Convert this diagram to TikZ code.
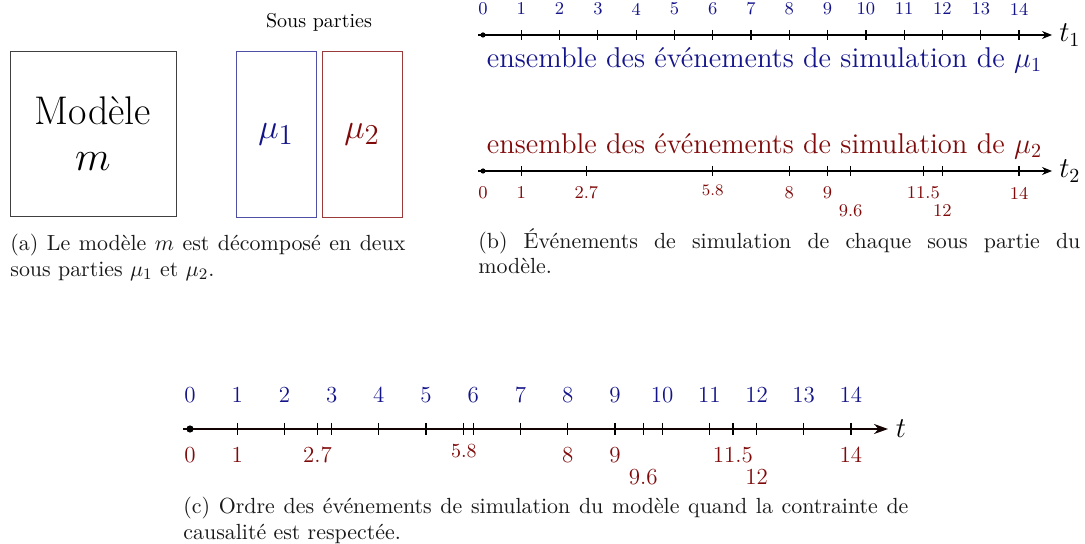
\documentclass[tikz,border=0pt]{standalone}
\usepackage{fontspec}
\usepackage{amsmath}
\definecolor{SPblue}{HTML}{14148A}
\definecolor{SPred}{HTML}{800A0A}
\usetikzlibrary{arrows.meta, positioning}

\tikzset{
  partbox/.style={draw, inner sep=0pt, font=\fontsize{19}{22}\selectfont},
  axisb/.style={-{Stealth[length=5pt, width=4pt]}, semithick},
  axisc/.style={-{Stealth[length=7pt, width=5pt]}, line width=1.1pt, black!85!SPred},
  evtb/.style={font=\fontsize{9}{10}\selectfont},
  evtc/.style={font=\fontsize{11.5}{13}\selectfont},
  captext/.style={anchor=north west, inner sep=0pt, align=left,
    font=\fontsize{10.95}{12.6}\selectfont, text=black!90}
}

\begin{document}
\begin{tikzpicture}[x=0.5pt, y=-0.5pt]
   \useasboundingbox (0,0) rectangle (1085,544);

   % (a) le modele et ses sous parties
   \node[partbox, draw=black!75, minimum width=83pt, minimum height=82.5pt,
      align=center, font=\fontsize{20}{23}\selectfont] (modele) at (93,133.5) {Modèle\\$m$};
   \node[partbox, draw=SPblue!75, text=SPblue, minimum width=40pt, minimum height=83pt]
      (mu1) at (276,134) {$\mu_1$};
   \node[partbox, draw=SPred!80, text=SPred, minimum width=40pt, minimum height=83pt]
      (mu2) at (362,134) {$\mu_2$};
   \node[font=\fontsize{10}{12}\selectfont] (sousparties) at (319,22) {Sous parties};
   \node[captext] (capa) at (10,234)
      {\makebox[197.5pt][s]{(a) Le modèle $m$ est décomposé en deux}\\
       sous parties $\mu_1$ et $\mu_2$.};

   % (b) evenements de chaque sous partie
   \coordinate (t1start) at (478,35);
   \coordinate (t1end) at (1052,35);
   \draw[axisb] (t1start) -- (t1end) node[right, font=\fontsize{14}{16}\selectfont] (t1) {$t_1$};
   \fill (483,35) circle (1.3pt);
   \foreach \t in {1,...,14}
      \draw[semithick] ({483+38.29*\t},30) -- +(0,10);
   \foreach \t in {0,...,14}
      \node[evtb, text=SPblue] (b1-\t) at ({483+38.29*\t},9) {\t};
   \node[text=SPblue, font=\fontsize{14.3}{16}\selectfont] (ens1) at (764.5,60)
      {ensemble des événements de simulation de $\mu_1$};

   \node[text=SPred, font=\fontsize{14.3}{16}\selectfont] (ens2) at (764.5,146)
      {ensemble des événements de simulation de $\mu_2$};
   \coordinate (t2start) at (478,171);
   \coordinate (t2end) at (1052,171);
   \draw[axisb] (t2start) -- (t2end) node[right, font=\fontsize{14}{16}\selectfont] (t2) {$t_2$};
   \fill (483,171) circle (1.3pt);
   \foreach \t in {1,2.7,6,8,9,9.6,11.5,12,14}
      \draw[semithick] ({483+38.29*\t},166) -- +(0,10);
   \foreach \t/\lab in {0/0,1/1,2.7/2.7,8/8,9/9,11.5/11.5,14/14}
      \node[evtb, text=SPred] (b2-\lab) at ({483+38.29*\t},193) {\lab};
   \foreach \t/\lab in {9.6/9.6,12/12}
      \node[evtb, text=SPred] (b2-\lab) at ({483+38.29*\t},211) {\lab};
   \node[evtb, text=SPred, font=\fontsize{8}{9}\selectfont] (b2-58) at ({483+38.29*6},190) {5.8};
   \node[captext] (capb) at (478,228)
      {\makebox[301pt][s]{(b) Événements de simulation de chaque sous partie du}\\
       modèle.};

   % (c) ordre des evenements du modele
   \coordinate (tstart) at (183,429);
   \coordinate (tend) at (888,429);
   \draw[axisc] (tstart) -- (tend) node[right, font=\fontsize{14}{16}\selectfont, text=black] (tt) {$t$};
   \fill (190,429) circle (1.8pt);
   \foreach \t in {1,...,14,2.7,5.8,9.6,11.5}
      \draw[semithick] ({190+47.21*\t},423) -- +(0,12);
   \foreach \t in {0,...,14}
      \node[evtc, text=SPblue] (c1-\t) at ({190+47.21*\t},395) {\t};
   \foreach \t/\lab in {0/0,1/1,2.7/2.7,8/8,9/9,11.5/11.5,14/14}
      \node[evtc, text=SPred] (c2-\lab) at ({190+47.21*\t},455) {\lab};
   \foreach \t/\lab in {9.6/9.6,12/12}
      \node[evtc, text=SPred] (c2-\lab) at ({190+47.21*\t},477) {\lab};
   \node[evtc, text=SPred, font=\fontsize{10}{11}\selectfont] (c2-58) at ({190+47.21*5.8},451) {5.8};
   \node[captext] (capc) at (183,497)
      {\makebox[362.5pt][s]{(c) Ordre des événements de simulation du modèle quand la contrainte de}\\
       causalité est respectée.};
\end{tikzpicture}
\end{document}
